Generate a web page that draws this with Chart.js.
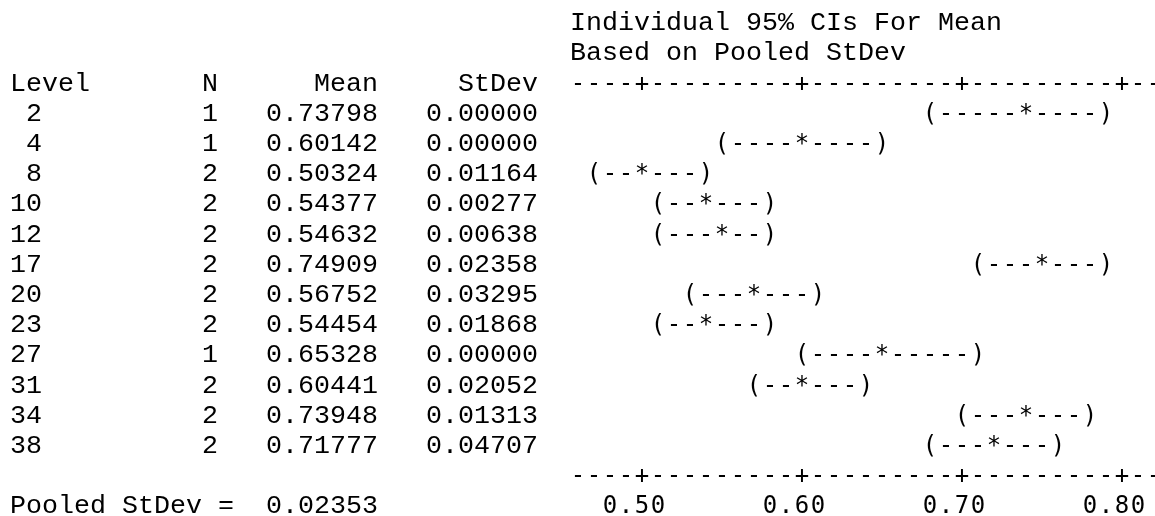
<!DOCTYPE html>
<html>
<head>
<meta charset="utf-8">
<script src="https://cdn.jsdelivr.net/npm/chart.js@4"></script>
<style>
    html, body { margin: 0; padding: 0; background: #ffffff; }
    #wrap { width: 1155px; height: 516px; position: relative; }
</style>
</head>
<body>
<div id="wrap"><canvas id="ciChart" width="1155" height="516"></canvas></div>
<script>
const levels = ['2', '4', '8', '10', '12', '17', '20', '23', '27', '31', '34', '38'];
const counts = [1, 1, 2, 2, 2, 2, 2, 2, 1, 2, 2, 2];
const means = [0.73798, 0.60142, 0.50324, 0.54377, 0.54632, 0.74909, 0.56752, 0.54454, 0.65328, 0.60441, 0.73948, 0.71777];
const stdevs = [0.00000, 0.00000, 0.01164, 0.00277, 0.00638, 0.02358, 0.03295, 0.01868, 0.00000, 0.02052, 0.01313, 0.04707];
// 95% interval ends as plotted
const ciLow = [0.6848, 0.5482, 0.4656, 0.5062, 0.5087, 0.7115, 0.5299, 0.5069, 0.6001, 0.5668, 0.7019, 0.6802];
const ciHigh = [0.7912, 0.6546, 0.5408, 0.5814, 0.5839, 0.7867, 0.6051, 0.5821, 0.7065, 0.6420, 0.7771, 0.7554];
const tickValues = [0.50, 0.60, 0.70, 0.80];
const pooledStDev = 0.02353;
const totalLine = 'Total      20  0.16848';
const titleLines = ['Individual 95% CIs For Mean', 'Based on Pooled StDev'];

const tableFont = '26.67px "Liberation Mono", monospace';
const plotFont = '24px "DejaVu Sans Mono", monospace';
const lineStep = 30.2;
const textLeft = 10;

function rowText(i) {
    return levels[i].padStart(2) + ' '.repeat(10) + String(counts[i]) + '   ' +
        means[i].toFixed(5) + '   ' + stdevs[i].toFixed(5);
}

// draws one character per 0.01 column of the x scale
function drawCell(ctx, xs, hundredths, ch, y) {
    ctx.fillText(ch, xs.getPixelForValue(hundredths / 100), y);
}

const asciiPlot = {
    id: 'asciiPlot',
    afterDatasetsDraw(chart) {
        const ctx = chart.ctx;
        const xs = chart.scales.x;
        const ys = chart.scales.y;
        const base0 = ys.getPixelForValue(0);
        const lastBase = ys.getPixelForValue(levels.length - 1);
        const rulerStart = Math.round(xs.min * 100) + 1;
        const rulerEnd = Math.round(xs.max * 100);
        const plotLeft = xs.getPixelForValue(rulerStart / 100) - 8;

        ctx.save();
        ctx.fillStyle = '#000000';
        ctx.textBaseline = 'alphabetic';

        // left table
        ctx.font = tableFont;
        ctx.textAlign = 'left';
        ctx.fillText(totalLine, textLeft, base0 - 4 * lineStep);
        ctx.fillText(titleLines[0], plotLeft, base0 - 3 * lineStep);
        ctx.fillText(titleLines[1], plotLeft, base0 - 2 * lineStep);
        ctx.fillText('Level       N      Mean     StDev', textLeft, base0 - lineStep);
        levels.forEach((lv, i) => {
            ctx.fillText(rowText(i), textLeft, ys.getPixelForValue(i));
        });
        ctx.fillText('Pooled StDev =  ' + pooledStDev.toFixed(5), textLeft, lastBase + 2 * lineStep);

        // rulers above and below the intervals
        ctx.font = plotFont;
        ctx.textAlign = 'center';
        const ticks = tickValues.map(v => Math.round(v * 100));
        [base0 - lineStep, lastBase + lineStep].forEach(y => {
            for (let k = rulerStart; k <= rulerEnd + 1; k++) {
                drawCell(ctx, xs, k, ticks.includes(k) ? '+' : '-', y);
            }
        });
        tickValues.forEach(v => {
            const label = v.toFixed(2);
            const k0 = Math.round(v * 100);
            for (let j = 0; j < label.length; j++) {
                drawCell(ctx, xs, k0 + j - 2, label[j], lastBase + 2 * lineStep);
            }
        });

        // intervals: ( at the low end, * at the mean, ) at the high end
        chart.getDatasetMeta(0).data.forEach((bar, i) => {
            const y = ys.getPixelForValue(i);
            const lo = Math.round(ciLow[i] * 100);
            const hi = Math.round(ciHigh[i] * 100);
            const mid = Math.round(means[i] * 100);
            for (let k = lo; k <= hi; k++) {
                let ch = '-';
                if (k === lo) ch = '(';
                else if (k === hi) ch = ')';
                else if (k === mid) ch = '*';
                drawCell(ctx, xs, k, ch, y);
            }
        });
        ctx.restore();
    }
};

new Chart(document.getElementById('ciChart'), {
    type: 'bar',
    data: {
        labels: levels,
        datasets: [{
            label: 'CI',
            data: ciLow.map((lo, i) => [lo, ciHigh[i]]),
            backgroundColor: 'rgba(0,0,0,0)',
            borderWidth: 0
        }]
    },
    options: {
        indexAxis: 'y',
        responsive: false,
        animation: false,
        layout: {
            padding: { left: 562, right: 1, top: 105.7, bottom: 47.9 }
        },
        scales: {
            x: { type: 'linear', min: 0.45, max: 0.82, display: false },
            y: { type: 'category', display: false }
        },
        plugins: {
            legend: { display: false },
            tooltip: { enabled: false }
        }
    },
    plugins: [asciiPlot]
});
</script>
</body>
</html>
